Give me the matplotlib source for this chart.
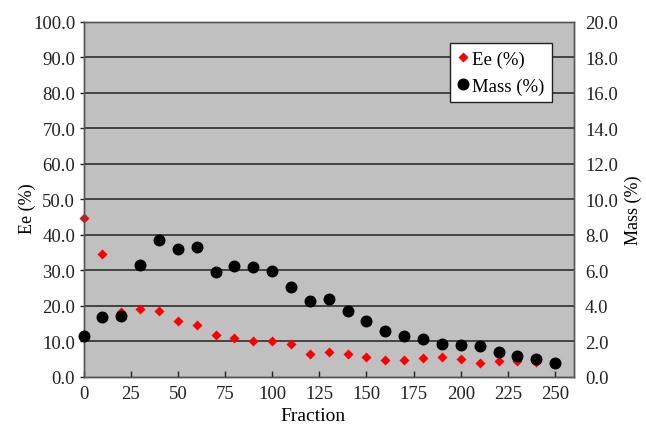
import matplotlib
matplotlib.use('Agg')
import matplotlib.pyplot as plt
from matplotlib.lines import Line2D

# fracciones y valores
fraccion = [0, 10, 20, 30, 40, 50, 60, 70, 80, 90, 100, 110, 120, 130, 140,
            150, 160, 170, 180, 190, 200, 210, 220, 230, 240, 250]
ee = [44.7, 34.6, 18.2, 19.1, 18.5, 15.7, 14.6, 11.8, 11.1, 10.1, 10.1, 9.3, 6.5,
      7.1, 6.5, 5.7, 4.7, 4.7, 5.3, 5.7, 5.0, 4.0, 4.4, 4.6, 4.3, 4.0]
masa = [2.32, 3.37, 3.43, 6.32, 7.71, 7.20, 7.33, 5.93, 6.24, 6.20, 5.98, 5.08, 4.25,
        4.37, 3.71, 3.15, 2.59, 2.29, 2.14, 1.86, 1.80, 1.74, 1.42, 1.20, 0.99, 0.80]

x_ticks = [0, 25, 50, 75, 100, 125, 150, 175, 200, 225, 250]
ee_ticks = [0, 10, 20, 30, 40, 50, 60, 70, 80, 90, 100]
masa_ticks = [0, 2, 4, 6, 8, 10, 12, 14, 16, 18, 20]

plt.rcParams['font.family'] = ['Liberation Serif', 'DejaVu Serif']
plt.rcParams['font.size'] = 13.5

fig = plt.figure(figsize=(6.46, 4.27), dpi=100)
ax = fig.add_axes([83.5/646, 1 - 378/427, (574 - 83.5)/646, (378 - 22.5)/427])
ax2 = ax.twinx()

ax.set_facecolor('#c0c0c0')
ax.set_xlim(0, 260)
ax.set_ylim(0, 100)
ax2.set_ylim(0, 20)

ax.set_yticks(ee_ticks)
ax.set_yticklabels(['%.1f' % v for v in ee_ticks])
ax2.set_yticks(masa_ticks)
ax2.set_yticklabels(['%.1f' % v for v in masa_ticks])
ax.set_xticks(x_ticks)

for v in ee_ticks[1:-1]:
    ax.axhline(v, color='#222222', lw=1.1, zorder=1)

ax.plot(fraccion, ee, 'D', color='#ff0000', ms=5.2, mec='none', zorder=3, clip_on=False)
ax2.plot(fraccion, masa, 'o', color='black', ms=7.6, zorder=4, clip_on=False)
ax2.set_zorder(ax.get_zorder() + 1)
ax2.patch.set_visible(False)

for a in (ax, ax2):
    for s in a.spines.values():
        s.set_color('#555555')
        s.set_linewidth(1.0)
ax.spines['bottom'].set_color('#222222')

ax.tick_params(axis='x', direction='in', length=4, width=1, pad=6, colors='#222222')
ax.tick_params(axis='y', direction='out', length=3, width=1, pad=3, colors='#222222')
ax2.tick_params(axis='y', direction='out', length=0, pad=8, colors='#222222')

ax.set_xlabel('Fraction', fontsize=14)
ax.set_ylabel('Ee (%)', fontsize=13)
ax2.set_ylabel('Mass (%)', fontsize=13)
ax.xaxis.set_label_coords(0.468, -0.085)
ax.yaxis.set_label_coords(-0.097, 0.475)
ax2.yaxis.set_label_coords(1.104, 0.473)

handles = [Line2D([], [], ls='none', marker='D', color='#ff0000', ms=5.2, mec='none'),
           Line2D([], [], ls='none', marker='o', color='black', ms=7.6)]
leg = ax2.legend(handles, ['Ee (%)', 'Mass (%)'], loc='upper left',
                 bbox_to_anchor=((450 - 83.5)/490.5, (378 - 44)/355.5),
                 borderaxespad=0, frameon=True, fancybox=False, fontsize=13.5,
                 handlelength=0.6, handletextpad=0.2, borderpad=0.4, labelspacing=0.5)
leg.get_frame().set_edgecolor('#222222')
leg.get_frame().set_linewidth(1.0)
leg.get_frame().set_facecolor('white')
leg.get_frame().set_alpha(1)

fig.savefig('out.png', dpi=100)
